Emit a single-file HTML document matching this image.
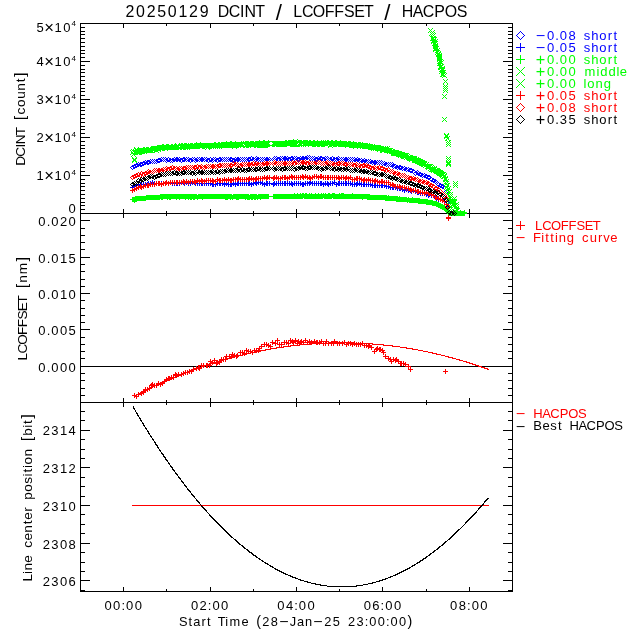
<!DOCTYPE html>
<html lang="en"><head><meta charset="utf-8"><title>20250129 DCINT / LCOFFSET / HACPOS</title>
<style>html,body{margin:0;padding:0;background:#fff}svg{display:block}text{font-family:'Liberation Sans', sans-serif;white-space:pre}</style>
</head><body>
<svg width="640" height="640" viewBox="0 0 640 640">
<rect width="640" height="640" fill="#fff"/>
<g shape-rendering="crispEdges" fill="none" stroke-width="1">
<path d="M80 23.5H513M80 213.5H513M80 402.5H513M80 591.5H513M80.5 23V592M512.5 23V592M123.5 24V28M210.5 24V28M296.5 24V28M382.5 24V28M469.5 24V28M166.5 24V26M253.5 24V26M339.5 24V26M426.5 24V26M123.5 209V213M123.5 214V218M210.5 209V213M210.5 214V218M296.5 209V213M296.5 214V218M382.5 209V213M382.5 214V218M469.5 209V213M469.5 214V218M166.5 211V213M166.5 214V216M253.5 211V213M253.5 214V216M339.5 211V213M339.5 214V216M426.5 211V213M426.5 214V216M123.5 398V402M123.5 403V407M210.5 398V402M210.5 403V407M296.5 398V402M296.5 403V407M382.5 398V402M382.5 403V407M469.5 398V402M469.5 403V407M166.5 400V402M166.5 403V405M253.5 400V402M253.5 403V405M339.5 400V402M339.5 403V405M426.5 400V402M426.5 403V405M123.5 587V591M210.5 587V591M296.5 587V591M382.5 587V591M469.5 587V591M166.5 589V591M253.5 589V591M339.5 589V591M426.5 589V591M81 213.5H90M503 213.5H512M81 175.5H90M503 175.5H512M81 137.5H90M503 137.5H512M81 99.5H90M503 99.5H512M81 61.5H90M503 61.5H512M81 23.5H90M503 23.5H512M81 209.5H85M508 209.5H512M81 205.5H85M508 205.5H512M81 202.5H85M508 202.5H512M81 198.5H85M508 198.5H512M81 194.5H85M508 194.5H512M81 190.5H85M508 190.5H512M81 186.5H85M508 186.5H512M81 183.5H85M508 183.5H512M81 179.5H85M508 179.5H512M81 171.5H85M508 171.5H512M81 167.5H85M508 167.5H512M81 164.5H85M508 164.5H512M81 160.5H85M508 160.5H512M81 156.5H85M508 156.5H512M81 152.5H85M508 152.5H512M81 148.5H85M508 148.5H512M81 145.5H85M508 145.5H512M81 141.5H85M508 141.5H512M81 133.5H85M508 133.5H512M81 129.5H85M508 129.5H512M81 126.5H85M508 126.5H512M81 122.5H85M508 122.5H512M81 118.5H85M508 118.5H512M81 114.5H85M508 114.5H512M81 110.5H85M508 110.5H512M81 107.5H85M508 107.5H512M81 103.5H85M508 103.5H512M81 95.5H85M508 95.5H512M81 91.5H85M508 91.5H512M81 88.5H85M508 88.5H512M81 84.5H85M508 84.5H512M81 80.5H85M508 80.5H512M81 76.5H85M508 76.5H512M81 72.5H85M508 72.5H512M81 69.5H85M508 69.5H512M81 65.5H85M508 65.5H512M81 57.5H85M508 57.5H512M81 53.5H85M508 53.5H512M81 50.5H85M508 50.5H512M81 46.5H85M508 46.5H512M81 42.5H85M508 42.5H512M81 38.5H85M508 38.5H512M81 34.5H85M508 34.5H512M81 31.5H85M508 31.5H512M81 27.5H85M508 27.5H512M81 366.5H90M503 366.5H512M81 329.5H90M503 329.5H512M81 293.5H90M503 293.5H512M81 257.5H90M503 257.5H512M81 220.5H90M503 220.5H512M81 395.5H85M508 395.5H512M81 388.5H85M508 388.5H512M81 380.5H85M508 380.5H512M81 373.5H85M508 373.5H512M81 358.5H85M508 358.5H512M81 351.5H85M508 351.5H512M81 344.5H85M508 344.5H512M81 337.5H85M508 337.5H512M81 322.5H85M508 322.5H512M81 315.5H85M508 315.5H512M81 308.5H85M508 308.5H512M81 300.5H85M508 300.5H512M81 286.5H85M508 286.5H512M81 279.5H85M508 279.5H512M81 271.5H85M508 271.5H512M81 264.5H85M508 264.5H512M81 249.5H85M508 249.5H512M81 242.5H85M508 242.5H512M81 235.5H85M508 235.5H512M81 228.5H85M508 228.5H512M81 580.5H90M503 580.5H512M81 543.5H90M503 543.5H512M81 505.5H90M503 505.5H512M81 467.5H90M503 467.5H512M81 430.5H90M503 430.5H512M81 590.5H85M508 590.5H512M81 571.5H85M508 571.5H512M81 562.5H85M508 562.5H512M81 552.5H85M508 552.5H512M81 533.5H85M508 533.5H512M81 524.5H85M508 524.5H512M81 514.5H85M508 514.5H512M81 496.5H85M508 496.5H512M81 486.5H85M508 486.5H512M81 477.5H85M508 477.5H512M81 458.5H85M508 458.5H512M81 449.5H85M508 449.5H512M81 439.5H85M508 439.5H512M81 420.5H85M508 420.5H512M81 411.5H85M508 411.5H512M80 366.5H513" stroke="#000"/>
<path d="M307 155.5h1M309 155.5h1M251 156.5h1M256 156.5h1M274 156.5h1M276 156.5h1M280 156.5h1M282 156.5h1M284 156.5h2M287 156.5h1M291 156.5h2M294 156.5h1M296 156.5h1M300 156.5h1M302 156.5h2M305 156.5h2M308 156.5h1M310 156.5h1M312 156.5h1M314 156.5h1M318 156.5h1M320 156.5h2M325 156.5h1M327 156.5h1M332 156.5h1M338 156.5h1M161 157.5h1M163 157.5h1M165 157.5h1M168 157.5h1M174 157.5h1M176 157.5h2M179 157.5h1M183 157.5h2M186 157.5h1M188 157.5h1M192 157.5h1M194 157.5h1M197 157.5h1M199 157.5h1M201 157.5h2M204 157.5h1M206 157.5h1M210 157.5h1M213 157.5h1M215 157.5h1M219 157.5h2M222 157.5h1M224 157.5h1M226 157.5h1M228 157.5h1M230 157.5h2M235 157.5h1M237 157.5h2M240 157.5h1M242 157.5h1M244 157.5h1M246 157.5h1M248 157.5h3M252 157.5h2M255 157.5h1M257 157.5h2M260 157.5h1M262 157.5h1M264 157.5h1M266 157.5h2M269 157.5h1M273 157.5h1M275 157.5h1M277 157.5h3M281 157.5h1M283 157.5h4M288 157.5h6M295 157.5h1M297 157.5h3M301 157.5h7M309 157.5h1M311 157.5h1M313 157.5h1M315 157.5h3M319 157.5h6M326 157.5h1M328 157.5h1M330 157.5h2M333 157.5h2M336 157.5h2M339 157.5h1M341 157.5h1M343 157.5h1M345 157.5h2M348 157.5h1M350 157.5h1M352 157.5h1M354 157.5h1M357 157.5h1M158 158.5h3M162 158.5h1M164 158.5h1M166 158.5h2M169 158.5h2M172 158.5h2M175 158.5h4M180 158.5h6M187 158.5h1M189 158.5h3M193 158.5h1M195 158.5h2M198 158.5h1M200 158.5h4M205 158.5h1M207 158.5h3M211 158.5h2M214 158.5h1M216 158.5h6M223 158.5h1M225 158.5h1M227 158.5h1M229 158.5h6M236 158.5h4M241 158.5h1M243 158.5h1M245 158.5h1M247 158.5h4M252 158.5h3M256 158.5h4M261 158.5h1M263 158.5h1M265 158.5h4M270 158.5h1M272 158.5h1M274 158.5h1M276 158.5h5M282 158.5h9M292 158.5h3M296 158.5h13M310 158.5h1M312 158.5h1M314 158.5h7M322 158.5h4M327 158.5h1M329 158.5h3M333 158.5h6M340 158.5h1M342 158.5h1M344 158.5h4M349 158.5h1M351 158.5h1M353 158.5h1M355 158.5h2M358 158.5h2M361 158.5h1M364 158.5h1M150 159.5h1M152 159.5h1M154 159.5h1M156 159.5h6M163 159.5h1M165 159.5h3M169 159.5h14M184 159.5h3M188 159.5h5M194 159.5h4M199 159.5h6M206 159.5h4M211 159.5h3M215 159.5h4M220 159.5h3M224 159.5h1M226 159.5h1M228 159.5h3M232 159.5h9M242 159.5h1M244 159.5h1M246 159.5h3M250 159.5h4M255 159.5h4M260 159.5h1M262 159.5h1M264 159.5h6M271 159.5h1M273 159.5h1M275 159.5h3M279 159.5h3M283 159.5h6M290 159.5h4M295 159.5h3M299 159.5h6M306 159.5h2M309 159.5h1M311 159.5h1M313 159.5h3M317 159.5h6M324 159.5h3M328 159.5h1M330 159.5h5M336 159.5h4M341 159.5h1M343 159.5h6M350 159.5h1M352 159.5h1M354 159.5h7M362 159.5h2M365 159.5h2M368 159.5h1M370 159.5h1M145 160.5h1M147 160.5h3M151 160.5h1M153 160.5h1M155 160.5h3M160 160.5h3M164 160.5h1M166 160.5h5M172 160.5h9M182 160.5h4M187 160.5h3M191 160.5h3M195 160.5h4M200 160.5h4M205 160.5h3M209 160.5h4M214 160.5h3M218 160.5h4M223 160.5h1M225 160.5h1M227 160.5h1M229 160.5h4M234 160.5h6M241 160.5h1M243 160.5h1M245 160.5h1M247 160.5h6M254 160.5h1M256 160.5h2M259 160.5h1M261 160.5h1M263 160.5h1M265 160.5h4M270 160.5h1M272 160.5h1M274 160.5h1M276 160.5h2M279 160.5h2M282 160.5h1M284 160.5h2M287 160.5h2M290 160.5h3M294 160.5h1M296 160.5h2M299 160.5h2M302 160.5h2M305 160.5h1M310 160.5h1M312 160.5h1M314 160.5h2M317 160.5h2M320 160.5h3M324 160.5h2M327 160.5h1M329 160.5h1M331 160.5h3M335 160.5h1M337 160.5h2M340 160.5h1M342 160.5h1M344 160.5h4M349 160.5h1M351 160.5h1M353 160.5h7M361 160.5h7M369 160.5h1M371 160.5h2M374 160.5h2M377 160.5h1M379 160.5h1M381 160.5h1M143 161.5h2M146 161.5h5M152 161.5h1M154 161.5h1M156 161.5h6M163 161.5h1M165 161.5h1M167 161.5h3M171 161.5h1M173 161.5h2M176 161.5h2M179 161.5h2M182 161.5h3M186 161.5h1M188 161.5h2M191 161.5h2M194 161.5h1M196 161.5h2M199 161.5h1M201 161.5h2M204 161.5h1M206 161.5h2M209 161.5h3M213 161.5h1M215 161.5h2M218 161.5h3M222 161.5h1M224 161.5h1M226 161.5h1M228 161.5h1M230 161.5h3M234 161.5h2M237 161.5h2M240 161.5h1M242 161.5h1M244 161.5h1M246 161.5h1M248 161.5h2M253 161.5h1M255 161.5h1M258 161.5h1M260 161.5h1M262 161.5h1M264 161.5h1M266 161.5h2M269 161.5h1M273 161.5h1M278 161.5h1M289 161.5h1M298 161.5h1M316 161.5h1M323 161.5h1M328 161.5h1M330 161.5h1M334 161.5h1M336 161.5h1M339 161.5h1M341 161.5h1M343 161.5h1M345 161.5h2M348 161.5h1M350 161.5h1M352 161.5h1M354 161.5h2M357 161.5h2M360 161.5h7M368 161.5h1M370 161.5h7M378 161.5h1M380 161.5h1M382 161.5h1M384 161.5h1M138 162.5h1M140 162.5h8M149 162.5h3M153 162.5h1M155 162.5h1M157 162.5h3M166 162.5h1M170 162.5h1M172 162.5h1M181 162.5h1M190 162.5h1M195 162.5h1M208 162.5h1M212 162.5h1M217 162.5h1M233 162.5h1M356 162.5h1M359 162.5h1M361 162.5h2M364 162.5h2M367 162.5h1M369 162.5h9M379 162.5h1M381 162.5h1M383 162.5h1M385 162.5h2M388 162.5h1M390 162.5h1M392 162.5h1M136 163.5h2M139 163.5h4M144 163.5h7M152 163.5h1M154 163.5h1M156 163.5h1M363 163.5h1M366 163.5h1M368 163.5h1M370 163.5h2M373 163.5h4M378 163.5h1M380 163.5h1M382 163.5h1M384 163.5h4M389 163.5h1M391 163.5h1M393 163.5h1M134 164.5h7M142 164.5h4M147 164.5h2M372 164.5h1M374 164.5h2M377 164.5h1M379 164.5h1M381 164.5h1M383 164.5h4M388 164.5h1M390 164.5h1M392 164.5h4M132 165.5h4M137 165.5h7M382 165.5h1M384 165.5h2M387 165.5h1M389 165.5h1M391 165.5h4M396 165.5h2M399 165.5h2M131 166.5h3M135 166.5h4M140 166.5h2M386 166.5h1M388 166.5h1M390 166.5h4M395 166.5h8M404 166.5h1M130 167.5h1M133 167.5h4M392 167.5h1M394 167.5h6M401 167.5h3M405 167.5h2M408 167.5h1M131 168.5h1M133 168.5h2M393 168.5h1M395 168.5h2M398 168.5h5M404 168.5h4M409 168.5h3M132 169.5h1M397 169.5h1M399 169.5h3M403 169.5h4M408 169.5h6M402 170.5h1M404 170.5h2M407 170.5h3M412 170.5h3M417 170.5h1M406 171.5h1M408 171.5h5M415 171.5h2M418 171.5h1M410 172.5h3M414 172.5h4M419 172.5h2M413 173.5h1M416 173.5h7M424 173.5h1M414 174.5h1M416 174.5h4M421 174.5h3M425 174.5h2M415 175.5h1M418 175.5h5M424 175.5h6M420 176.5h2M423 176.5h3M427 176.5h4M422 177.5h1M424 177.5h4M430 177.5h2M426 178.5h5M432 178.5h2M428 179.5h2M432 179.5h4M430 180.5h3M434 180.5h3M431 181.5h5M437 181.5h1M433 182.5h2M436 182.5h1M438 182.5h1M435 183.5h1M437 183.5h1M439 183.5h2M436 184.5h1M439 184.5h4M437 185.5h3M441 185.5h4M438 186.5h4M443 186.5h3M440 187.5h4M446 187.5h1M442 188.5h2M445 188.5h1M444 189.5h1M446 189.5h1M445 190.5h1M447 190.5h1M444 191.5h1M448 191.5h1M445 192.5h1M447 192.5h1M446 193.5h1M447 200.5h1M446 201.5h1M448 201.5h1M445 202.5h1M449 202.5h1M446 203.5h1M448 203.5h1M447 204.5h1" stroke="#0000ff"/>
<path d="M152 180.5h1M166 180.5h1M170 180.5h1M181 180.5h1M183 180.5h1M186 180.5h1M192 180.5h1M194 180.5h1M255 180.5h1M258 180.5h1M260 180.5h1M310 180.5h1M334 180.5h1M148 181.5h1M150 181.5h1M152 181.5h1M154 181.5h1M156 181.5h1M158 181.5h2M161 181.5h1M163 181.5h1M165 181.5h2M168 181.5h1M170 181.5h1M172 181.5h1M174 181.5h1M176 181.5h2M179 181.5h1M181 181.5h1M183 181.5h2M186 181.5h1M188 181.5h1M190 181.5h1M192 181.5h1M194 181.5h2M197 181.5h1M199 181.5h1M201 181.5h2M204 181.5h1M206 181.5h1M208 181.5h1M210 181.5h1M217 181.5h1M219 181.5h2M222 181.5h1M226 181.5h1M233 181.5h1M237 181.5h2M240 181.5h1M242 181.5h1M244 181.5h1M246 181.5h1M248 181.5h2M253 181.5h1M255 181.5h2M258 181.5h1M260 181.5h1M262 181.5h1M266 181.5h2M269 181.5h1M274 181.5h1M276 181.5h1M278 181.5h1M280 181.5h1M282 181.5h1M284 181.5h2M287 181.5h1M289 181.5h1M291 181.5h1M294 181.5h1M296 181.5h1M298 181.5h1M300 181.5h1M305 181.5h1M307 181.5h1M309 181.5h2M312 181.5h1M314 181.5h1M316 181.5h1M318 181.5h1M320 181.5h2M325 181.5h1M327 181.5h1M330 181.5h1M332 181.5h1M334 181.5h1M338 181.5h2M341 181.5h1M343 181.5h1M345 181.5h2M348 181.5h1M350 181.5h1M357 181.5h1M359 181.5h1M140 182.5h2M143 182.5h1M145 182.5h1M147 182.5h2M150 182.5h5M156 182.5h1M158 182.5h2M161 182.5h1M163 182.5h10M174 182.5h1M176 182.5h2M179 182.5h10M190 182.5h8M199 182.5h1M201 182.5h2M204 182.5h1M206 182.5h1M208 182.5h1M210 182.5h1M212 182.5h2M215 182.5h1M217 182.5h1M219 182.5h2M222 182.5h1M224 182.5h1M226 182.5h1M228 182.5h1M230 182.5h2M233 182.5h1M235 182.5h1M237 182.5h2M240 182.5h1M242 182.5h1M244 182.5h1M246 182.5h1M248 182.5h2M251 182.5h1M253 182.5h10M264 182.5h1M266 182.5h2M269 182.5h1M273 182.5h2M276 182.5h1M278 182.5h1M280 182.5h1M282 182.5h1M284 182.5h2M287 182.5h1M289 182.5h1M291 182.5h2M294 182.5h1M296 182.5h1M298 182.5h1M300 182.5h1M302 182.5h2M305 182.5h1M307 182.5h6M314 182.5h1M316 182.5h1M318 182.5h1M320 182.5h2M323 182.5h1M325 182.5h1M327 182.5h2M330 182.5h1M332 182.5h5M338 182.5h2M341 182.5h1M343 182.5h1M345 182.5h2M348 182.5h1M350 182.5h1M352 182.5h1M354 182.5h1M356 182.5h2M359 182.5h1M361 182.5h1M363 182.5h2M366 182.5h1M368 182.5h1M370 182.5h1M136 183.5h1M138 183.5h1M140 183.5h2M143 183.5h1M145 183.5h69M215 183.5h14M230 183.5h29M260 183.5h75M336 183.5h17M354 183.5h8M363 183.5h2M366 183.5h1M368 183.5h1M370 183.5h1M372 183.5h1M374 183.5h2M377 183.5h1M379 183.5h1M381 183.5h2M384 183.5h1M134 184.5h1M136 184.5h1M138 184.5h13M152 184.5h1M154 184.5h1M156 184.5h1M158 184.5h2M161 184.5h1M163 184.5h1M165 184.5h2M168 184.5h1M170 184.5h1M172 184.5h1M174 184.5h1M176 184.5h2M179 184.5h1M181 184.5h1M183 184.5h2M186 184.5h1M188 184.5h1M190 184.5h1M192 184.5h1M194 184.5h2M197 184.5h1M199 184.5h1M201 184.5h2M204 184.5h1M206 184.5h1M208 184.5h1M210 184.5h8M219 184.5h2M222 184.5h17M240 184.5h1M242 184.5h1M244 184.5h1M246 184.5h1M248 184.5h6M255 184.5h2M258 184.5h1M260 184.5h1M262 184.5h6M269 184.5h1M271 184.5h6M278 184.5h1M280 184.5h1M282 184.5h1M284 184.5h2M287 184.5h1M289 184.5h6M296 184.5h1M298 184.5h1M300 184.5h6M307 184.5h1M309 184.5h2M312 184.5h1M314 184.5h1M316 184.5h1M318 184.5h1M320 184.5h11M332 184.5h1M334 184.5h6M341 184.5h1M343 184.5h1M345 184.5h2M348 184.5h1M350 184.5h23M374 184.5h2M377 184.5h1M379 184.5h1M381 184.5h2M384 184.5h1M386 184.5h1M388 184.5h1M132 185.5h1M134 185.5h8M143 185.5h1M145 185.5h1M147 185.5h2M150 185.5h1M154 185.5h1M156 185.5h1M158 185.5h2M161 185.5h1M163 185.5h1M165 185.5h1M168 185.5h1M172 185.5h1M174 185.5h1M176 185.5h2M179 185.5h1M184 185.5h1M188 185.5h1M190 185.5h1M195 185.5h1M197 185.5h1M199 185.5h1M201 185.5h2M204 185.5h1M206 185.5h1M208 185.5h1M210 185.5h1M212 185.5h2M215 185.5h1M217 185.5h1M219 185.5h2M222 185.5h1M224 185.5h1M226 185.5h1M228 185.5h1M230 185.5h2M233 185.5h1M235 185.5h1M237 185.5h2M240 185.5h1M242 185.5h1M244 185.5h1M246 185.5h1M248 185.5h2M251 185.5h1M253 185.5h1M256 185.5h1M262 185.5h1M264 185.5h1M266 185.5h2M269 185.5h1M273 185.5h2M276 185.5h1M278 185.5h1M280 185.5h1M282 185.5h1M284 185.5h2M287 185.5h1M289 185.5h1M291 185.5h2M294 185.5h1M296 185.5h1M298 185.5h1M300 185.5h1M302 185.5h2M305 185.5h1M307 185.5h1M309 185.5h1M312 185.5h1M314 185.5h1M316 185.5h1M318 185.5h1M320 185.5h2M323 185.5h1M325 185.5h1M327 185.5h2M330 185.5h1M332 185.5h1M336 185.5h1M338 185.5h2M341 185.5h1M343 185.5h1M345 185.5h2M348 185.5h1M350 185.5h1M352 185.5h1M354 185.5h1M356 185.5h2M359 185.5h1M361 185.5h1M363 185.5h2M366 185.5h1M368 185.5h1M370 185.5h17M388 185.5h1M390 185.5h1M392 185.5h2M395 185.5h1M132 186.5h5M138 186.5h1M140 186.5h2M143 186.5h1M145 186.5h1M147 186.5h1M212 186.5h2M215 186.5h1M224 186.5h1M228 186.5h1M230 186.5h2M235 186.5h1M251 186.5h1M264 186.5h1M273 186.5h1M292 186.5h1M302 186.5h2M323 186.5h1M328 186.5h1M336 186.5h1M352 186.5h1M354 186.5h1M356 186.5h1M361 186.5h1M363 186.5h2M366 186.5h1M368 186.5h1M370 186.5h1M372 186.5h1M374 186.5h2M377 186.5h1M379 186.5h1M381 186.5h2M384 186.5h7M392 186.5h2M395 186.5h1M397 186.5h1M399 186.5h2M130 187.5h5M136 187.5h1M138 187.5h1M372 187.5h1M374 187.5h2M377 187.5h1M379 187.5h1M381 187.5h2M384 187.5h1M386 187.5h1M388 187.5h10M399 187.5h2M402 187.5h1M406 187.5h1M132 188.5h1M134 188.5h1M386 188.5h1M388 188.5h1M390 188.5h1M392 188.5h2M395 188.5h8M404 188.5h1M406 188.5h1M408 188.5h1M410 188.5h1M413 188.5h1M132 189.5h1M390 189.5h1M392 189.5h2M395 189.5h1M397 189.5h1M399 189.5h10M410 189.5h2M413 189.5h1M415 189.5h1M397 190.5h1M399 190.5h2M402 190.5h14M417 190.5h2M402 191.5h1M404 191.5h1M406 191.5h1M408 191.5h11M420 191.5h1M422 191.5h1M424 191.5h1M404 192.5h1M408 192.5h1M410 192.5h2M413 192.5h1M415 192.5h6M422 192.5h1M424 192.5h1M426 192.5h1M429 192.5h1M411 193.5h1M415 193.5h1M417 193.5h10M428 193.5h2M431 193.5h1M433 193.5h1M417 194.5h2M420 194.5h1M422 194.5h1M424 194.5h8M433 194.5h1M435 194.5h1M420 195.5h1M422 195.5h1M424 195.5h1M426 195.5h10M426 196.5h1M428 196.5h2M431 196.5h1M433 196.5h5M428 197.5h1M431 197.5h1M433 197.5h1M435 197.5h2M438 197.5h1M440 197.5h1M442 197.5h1M434 198.5h5M440 198.5h1M442 198.5h1M436 199.5h9M436 200.5h1M438 200.5h1M440 200.5h1M442 200.5h1M444 200.5h1M438 201.5h1M440 201.5h1M442 201.5h5M444 202.5h1M446 202.5h1M444 203.5h1M446 203.5h1M444 204.5h5M446 205.5h1M446 206.5h2M447 207.5h1M445 208.5h5M447 209.5h1M447 210.5h1" stroke="#0000ff"/>
<path d="M294 193.5h1M297 193.5h1M300 193.5h1M302 193.5h2M305 193.5h2M309 193.5h1M311 193.5h1M315 193.5h1M318 193.5h1M321 193.5h1M323 193.5h1M325 193.5h1M328 193.5h2M332 193.5h3M339 193.5h1M341 193.5h3M352 193.5h1M160 194.5h37M198 194.5h34M233 194.5h16M250 194.5h7M258 194.5h11M273 194.5h97M146 195.5h123M273 195.5h114M388 195.5h1M135 196.5h263M399 196.5h1M132 197.5h137M273 197.5h134M408 197.5h1M412 197.5h1M132 198.5h137M273 198.5h30M304 198.5h19M324 198.5h8M333 198.5h87M130 199.5h30M161 199.5h2M167 199.5h1M169 199.5h2M176 199.5h1M179 199.5h1M185 199.5h1M188 199.5h1M190 199.5h2M193 199.5h2M197 199.5h1M202 199.5h1M225 199.5h3M230 199.5h1M232 199.5h1M236 199.5h3M245 199.5h1M247 199.5h3M251 199.5h2M254 199.5h2M257 199.5h1M260 199.5h1M362 199.5h1M367 199.5h61M132 200.5h14M385 200.5h48M132 201.5h5M396 201.5h41M134 202.5h1M407 202.5h1M409 202.5h30M418 203.5h23M426 204.5h17M432 205.5h13M436 206.5h10M438 207.5h9M440 208.5h8M442 209.5h7M444 210.5h6M454 210.5h1M460 210.5h1M464 210.5h1M445 211.5h20M446 212.5h21M447 213.5h20M448 214.5h17M449 215.5h16" stroke="#00ff00"/>
<path d="M293 139.5h1M297 139.5h1M259 140.5h1M263 140.5h2M268 140.5h1M285 140.5h2M288 140.5h9M298 140.5h4M303 140.5h5M309 140.5h2M313 140.5h2M317 140.5h1M321 140.5h1M323 140.5h1M325 140.5h1M327 140.5h2M331 140.5h2M335 140.5h2M340 140.5h1M226 141.5h1M230 141.5h2M235 141.5h1M241 141.5h1M243 141.5h1M245 141.5h4M250 141.5h4M255 141.5h92M348 141.5h3M353 141.5h1M196 142.5h1M200 142.5h1M214 142.5h2M218 142.5h2M221 142.5h49M272 142.5h85M358 142.5h3M362 142.5h1M175 143.5h1M179 143.5h1M181 143.5h2M184 143.5h3M188 143.5h1M190 143.5h3M194 143.5h75M273 143.5h25M299 143.5h69M369 143.5h1M162 144.5h2M166 144.5h3M171 144.5h2M174 144.5h3M178 144.5h65M244 144.5h26M272 144.5h25M298 144.5h4M303 144.5h70M374 144.5h1M157 145.5h87M245 145.5h83M329 145.5h52M151 146.5h28M180 146.5h90M272 146.5h3M276 146.5h11M290 146.5h10M301 146.5h1M303 146.5h1M305 146.5h1M308 146.5h1M312 146.5h4M317 146.5h3M321 146.5h4M328 146.5h4M333 146.5h4M338 146.5h46M385 146.5h1M387 146.5h1M389 146.5h1M134 147.5h1M138 147.5h1M143 147.5h2M146 147.5h3M150 147.5h89M240 147.5h1M243 147.5h2M246 147.5h3M250 147.5h1M254 147.5h2M257 147.5h11M328 147.5h1M332 147.5h1M345 147.5h1M349 147.5h40M134 148.5h2M137 148.5h63M202 148.5h3M206 148.5h1M208 148.5h4M213 148.5h1M215 148.5h1M217 148.5h1M219 148.5h1M221 148.5h1M232 148.5h1M236 148.5h1M353 148.5h1M357 148.5h1M360 148.5h1M362 148.5h31M131 149.5h1M133 149.5h1M135 149.5h44M180 149.5h2M183 149.5h3M187 149.5h1M189 149.5h1M205 149.5h1M209 149.5h1M368 149.5h24M393 149.5h2M130 150.5h1M132 150.5h29M162 150.5h3M167 150.5h1M371 150.5h1M373 150.5h1M375 150.5h24M131 151.5h1M133 151.5h20M154 151.5h4M160 151.5h1M377 151.5h1M380 151.5h22M131 152.5h2M134 152.5h21M158 152.5h1M380 152.5h2M384 152.5h21M131 153.5h14M146 153.5h1M387 153.5h1M389 153.5h20M130 154.5h1M133 154.5h5M139 154.5h3M391 154.5h17M409 154.5h1M132 155.5h1M134 155.5h1M391 155.5h18M410 155.5h3M131 156.5h1M135 156.5h1M396 156.5h21M132 157.5h1M136 157.5h1M398 157.5h1M400 157.5h17M418 157.5h1M132 158.5h2M135 158.5h2M401 158.5h3M405 158.5h16M133 159.5h3M404 159.5h1M406 159.5h17M133 160.5h3M407 160.5h18M132 161.5h2M135 161.5h2M409 161.5h1M412 161.5h15M132 162.5h1M136 162.5h1M412 162.5h15M428 162.5h1M415 163.5h11M427 163.5h1M417 164.5h16M419 165.5h13M433 165.5h1M421 166.5h2M424 166.5h7M432 166.5h1M434 166.5h1M436 166.5h1M423 167.5h1M426 167.5h11M425 168.5h11M437 168.5h3M426 169.5h1M429 169.5h12M428 170.5h1M430 170.5h13M429 171.5h15M431 172.5h1M433 172.5h13M434 173.5h11M446 173.5h1M436 174.5h8M445 174.5h2M437 175.5h9M439 176.5h3M443 176.5h3M447 176.5h1M440 177.5h1M442 177.5h6M441 178.5h2M444 178.5h3M444 179.5h3M448 179.5h1M443 180.5h5M443 181.5h2M446 181.5h3M445 182.5h1M447 182.5h1M444 183.5h1M446 183.5h1M448 183.5h1M445 184.5h1M447 184.5h1M444 185.5h1M448 185.5h1M445 186.5h1M447 186.5h1M446 187.5h1M445 188.5h1M447 188.5h1M449 188.5h1M444 189.5h1M446 189.5h1M448 189.5h1M447 190.5h1M446 191.5h1M448 191.5h1M445 192.5h1M449 192.5h1M446 193.5h1M448 193.5h1M447 194.5h1M446 195.5h1M448 195.5h1M445 196.5h2M449 196.5h2M446 197.5h2M449 197.5h2M447 198.5h3M447 199.5h3M446 200.5h2M449 200.5h2M446 201.5h2M450 201.5h2M448 202.5h1M450 202.5h1M447 203.5h1M449 203.5h1M451 203.5h1M448 204.5h1M450 204.5h1M447 205.5h3M451 205.5h2M448 206.5h4M447 207.5h2M450 207.5h3M449 208.5h1M451 208.5h1M448 209.5h1M450 209.5h1M452 209.5h1M449 210.5h1M451 210.5h1M448 211.5h1M452 211.5h1" stroke="#00ff00"/>
<path d="M428 28.5h1M432 28.5h1M429 29.5h1M431 29.5h1M430 30.5h1M434 30.5h1M429 31.5h1M431 31.5h1M433 31.5h1M428 32.5h1M430 32.5h1M432 32.5h1M434 32.5h1M431 33.5h1M433 33.5h1M435 33.5h1M430 34.5h1M432 34.5h1M434 34.5h1M429 35.5h1M431 35.5h1M433 35.5h1M430 36.5h3M434 36.5h2M431 37.5h6M431 38.5h3M435 38.5h1M431 39.5h5M437 39.5h1M430 40.5h7M432 41.5h6M431 42.5h6M431 43.5h1M433 43.5h3M437 43.5h1M433 44.5h5M432 45.5h6M433 46.5h6M433 47.5h5M433 48.5h5M439 48.5h1M434 49.5h5M433 50.5h7M433 51.5h1M436 51.5h3M440 51.5h1M435 52.5h3M439 52.5h2M436 53.5h4M441 53.5h1M435 54.5h1M437 54.5h5M436 55.5h6M436 56.5h6M437 57.5h5M437 58.5h5M437 59.5h6M437 60.5h5M443 60.5h1M437 61.5h1M439 61.5h4M438 62.5h4M437 63.5h6M438 64.5h3M442 64.5h2M437 65.5h6M439 66.5h3M444 66.5h1M439 67.5h6M438 68.5h7M438 69.5h2M441 69.5h3M440 70.5h6M439 71.5h6M440 72.5h6M439 73.5h1M441 73.5h4M446 73.5h1M441 74.5h3M445 74.5h1M441 75.5h4M440 76.5h2M443 76.5h3M442 77.5h1M446 77.5h1M443 79.5h1M447 79.5h1M444 80.5h1M446 80.5h1M445 81.5h1M444 82.5h1M446 82.5h1M443 83.5h1M447 83.5h1M443 84.5h1M447 84.5h1M444 85.5h1M446 85.5h1M443 86.5h1M445 86.5h1M447 86.5h1M444 87.5h1M446 87.5h1M443 88.5h1M445 88.5h1M447 88.5h1M444 89.5h1M446 89.5h1M443 90.5h1M445 90.5h1M447 90.5h1M444 91.5h1M446 91.5h1M443 92.5h1M447 92.5h1M442 94.5h1M446 94.5h1M443 95.5h1M445 95.5h1M444 96.5h1M443 97.5h1M445 97.5h1M442 98.5h1M446 98.5h1M442 117.5h1M446 117.5h1M443 118.5h1M445 118.5h1M444 119.5h1M443 120.5h1M445 120.5h1M442 121.5h1M446 121.5h1M444 133.5h1M448 133.5h1M444 134.5h2M447 134.5h2M445 135.5h3M445 136.5h3M449 136.5h1M444 137.5h5M444 138.5h1M447 138.5h2M446 139.5h1M448 139.5h1M445 140.5h2M449 140.5h2M447 141.5h1M449 141.5h1M446 142.5h1M448 142.5h1M450 142.5h1M447 143.5h1M449 143.5h1M446 144.5h1M448 144.5h1M450 144.5h1M447 145.5h1M449 145.5h1M446 146.5h1M450 146.5h1M446 156.5h1M450 156.5h1M447 157.5h1M449 157.5h1M446 158.5h1M448 158.5h1M450 158.5h1M447 159.5h1M449 159.5h1M446 160.5h1M448 160.5h1M450 160.5h1M446 161.5h2M449 161.5h2M446 162.5h5M447 163.5h3M446 164.5h5M446 165.5h2M449 165.5h2M446 166.5h1M450 166.5h1M444 179.5h1M448 179.5h1M443 180.5h1M445 180.5h1M447 180.5h1M444 181.5h1M446 181.5h1M453 181.5h1M457 181.5h1M445 182.5h1M447 182.5h1M454 182.5h1M456 182.5h1M444 183.5h3M448 183.5h2M453 183.5h1M455 183.5h1M457 183.5h1M443 184.5h1M446 184.5h3M454 184.5h1M456 184.5h1M447 185.5h1M453 185.5h1M455 185.5h1M457 185.5h1M446 186.5h1M448 186.5h1M450 186.5h1M454 186.5h1M456 186.5h1M445 187.5h1M447 187.5h1M449 187.5h1M453 187.5h1M457 187.5h1M448 188.5h1M447 189.5h1M449 189.5h1M451 189.5h1M446 190.5h1M448 190.5h1M450 190.5h1M449 191.5h1M448 192.5h1M450 192.5h1M452 192.5h1M447 193.5h1M449 193.5h1M451 193.5h1M448 194.5h1M450 194.5h1M452 194.5h1M449 195.5h1M451 195.5h1M448 196.5h1M450 196.5h1M452 196.5h1M456 196.5h1M449 197.5h1M451 197.5h1M453 197.5h1M455 197.5h1M448 198.5h1M450 198.5h1M452 198.5h1M454 198.5h1M450 199.5h7M450 200.5h7M449 201.5h1M451 201.5h5M451 202.5h5M458 202.5h1M450 203.5h1M452 203.5h6M452 204.5h5M458 204.5h1M451 205.5h1M453 205.5h3M457 205.5h1M453 206.5h4M458 206.5h1M452 207.5h1M454 207.5h5M454 208.5h6M453 209.5h1M456 209.5h3M455 210.5h3M460 210.5h1M454 211.5h1M456 211.5h4M455 212.5h1M458 212.5h2M457 213.5h1M459 213.5h1M456 214.5h1M460 214.5h1" stroke="#00ff00"/>
<path d="M291 174.5h1M302 174.5h1M305 174.5h1M314 174.5h1M316 174.5h1M320 174.5h2M264 175.5h1M267 175.5h1M269 175.5h1M274 175.5h1M276 175.5h1M282 175.5h1M284 175.5h2M289 175.5h1M291 175.5h2M294 175.5h1M296 175.5h1M298 175.5h1M300 175.5h1M302 175.5h2M305 175.5h1M307 175.5h1M309 175.5h1M312 175.5h1M314 175.5h1M316 175.5h1M318 175.5h1M320 175.5h2M323 175.5h1M325 175.5h1M327 175.5h2M330 175.5h1M332 175.5h1M334 175.5h1M336 175.5h1M338 175.5h1M341 175.5h1M343 175.5h1M346 175.5h1M350 175.5h1M238 176.5h1M249 176.5h1M251 176.5h1M256 176.5h1M258 176.5h1M260 176.5h1M262 176.5h1M264 176.5h1M266 176.5h2M269 176.5h1M273 176.5h2M276 176.5h1M278 176.5h1M280 176.5h1M282 176.5h1M284 176.5h2M287 176.5h1M289 176.5h6M296 176.5h1M298 176.5h1M300 176.5h8M309 176.5h2M312 176.5h12M325 176.5h1M327 176.5h2M330 176.5h1M332 176.5h1M334 176.5h1M336 176.5h1M338 176.5h2M341 176.5h1M343 176.5h1M345 176.5h2M348 176.5h1M350 176.5h1M356 176.5h2M359 176.5h1M217 177.5h1M224 177.5h1M228 177.5h1M233 177.5h1M235 177.5h1M237 177.5h2M240 177.5h1M242 177.5h1M244 177.5h1M246 177.5h1M248 177.5h2M251 177.5h1M253 177.5h1M255 177.5h2M258 177.5h1M260 177.5h1M262 177.5h17M280 177.5h35M316 177.5h37M354 177.5h1M356 177.5h2M359 177.5h1M361 177.5h1M364 177.5h1M368 177.5h1M197 178.5h1M201 178.5h1M206 178.5h1M208 178.5h1M210 178.5h1M212 178.5h1M217 178.5h1M219 178.5h2M222 178.5h1M224 178.5h1M226 178.5h1M228 178.5h1M230 178.5h2M233 178.5h1M235 178.5h6M242 178.5h1M244 178.5h1M246 178.5h24M271 178.5h12M284 178.5h6M291 178.5h2M294 178.5h1M296 178.5h1M298 178.5h1M300 178.5h1M302 178.5h2M305 178.5h1M307 178.5h6M314 178.5h1M316 178.5h1M318 178.5h1M320 178.5h2M323 178.5h1M325 178.5h1M327 178.5h2M330 178.5h1M332 178.5h1M334 178.5h1M336 178.5h6M343 178.5h8M352 178.5h1M354 178.5h8M363 178.5h2M366 178.5h1M368 178.5h1M370 178.5h1M372 178.5h1M375 178.5h1M183 179.5h1M186 179.5h1M190 179.5h1M192 179.5h1M194 179.5h1M197 179.5h1M199 179.5h1M201 179.5h2M204 179.5h1M206 179.5h1M208 179.5h1M210 179.5h1M212 179.5h2M215 179.5h6M222 179.5h37M260 179.5h1M262 179.5h1M264 179.5h1M266 179.5h2M269 179.5h1M273 179.5h2M276 179.5h1M278 179.5h1M280 179.5h1M282 179.5h1M284 179.5h2M287 179.5h1M289 179.5h1M292 179.5h1M294 179.5h1M296 179.5h1M298 179.5h1M300 179.5h1M303 179.5h1M307 179.5h1M309 179.5h2M312 179.5h1M318 179.5h1M323 179.5h1M325 179.5h1M327 179.5h2M330 179.5h1M332 179.5h1M334 179.5h1M336 179.5h1M338 179.5h2M341 179.5h1M343 179.5h1M345 179.5h2M348 179.5h1M350 179.5h8M359 179.5h12M372 179.5h1M374 179.5h2M377 179.5h1M381 179.5h2M166 180.5h1M170 180.5h1M172 180.5h1M174 180.5h1M176 180.5h2M179 180.5h1M181 180.5h1M183 180.5h2M186 180.5h1M188 180.5h1M190 180.5h1M192 180.5h1M194 180.5h22M217 180.5h17M235 180.5h1M237 180.5h2M240 180.5h1M242 180.5h1M244 180.5h1M246 180.5h1M248 180.5h2M251 180.5h1M253 180.5h1M255 180.5h2M258 180.5h1M260 180.5h1M262 180.5h1M266 180.5h1M273 180.5h1M278 180.5h1M280 180.5h1M287 180.5h1M310 180.5h1M339 180.5h1M345 180.5h1M348 180.5h1M352 180.5h1M354 180.5h1M356 180.5h2M359 180.5h1M361 180.5h17M379 180.5h1M381 180.5h2M384 180.5h1M386 180.5h1M388 180.5h1M156 181.5h1M158 181.5h2M163 181.5h1M165 181.5h2M168 181.5h1M170 181.5h1M172 181.5h1M174 181.5h1M176 181.5h2M179 181.5h1M181 181.5h26M208 181.5h1M210 181.5h8M219 181.5h2M222 181.5h1M224 181.5h1M226 181.5h1M228 181.5h1M230 181.5h2M233 181.5h1M235 181.5h1M237 181.5h1M240 181.5h1M242 181.5h1M244 181.5h1M246 181.5h1M248 181.5h1M253 181.5h1M255 181.5h1M352 181.5h1M354 181.5h1M361 181.5h1M363 181.5h2M366 181.5h1M368 181.5h1M370 181.5h1M372 181.5h13M386 181.5h1M388 181.5h1M150 182.5h1M152 182.5h1M154 182.5h1M156 182.5h1M158 182.5h2M161 182.5h1M163 182.5h28M192 182.5h6M199 182.5h1M201 182.5h2M204 182.5h1M206 182.5h1M208 182.5h1M210 182.5h1M212 182.5h2M215 182.5h1M219 182.5h2M222 182.5h1M226 182.5h1M230 182.5h2M363 182.5h1M366 182.5h1M370 182.5h1M372 182.5h1M374 182.5h2M377 182.5h14M392 182.5h1M145 183.5h1M147 183.5h2M150 183.5h1M152 183.5h1M154 183.5h17M172 183.5h1M174 183.5h1M176 183.5h2M179 183.5h1M181 183.5h1M183 183.5h2M186 183.5h1M188 183.5h1M190 183.5h1M192 183.5h1M194 183.5h2M199 183.5h1M202 183.5h1M204 183.5h1M213 183.5h1M215 183.5h1M374 183.5h1M377 183.5h1M379 183.5h1M381 183.5h2M384 183.5h1M386 183.5h1M388 183.5h1M390 183.5h1M392 183.5h2M140 184.5h1M143 184.5h1M145 184.5h1M147 184.5h10M158 184.5h6M165 184.5h2M168 184.5h1M170 184.5h1M172 184.5h1M174 184.5h1M176 184.5h2M179 184.5h1M181 184.5h1M184 184.5h1M188 184.5h1M195 184.5h1M379 184.5h1M384 184.5h1M386 184.5h1M388 184.5h8M397 184.5h1M399 184.5h1M138 185.5h1M140 185.5h2M143 185.5h8M152 185.5h1M154 185.5h1M156 185.5h1M158 185.5h2M161 185.5h1M163 185.5h1M165 185.5h1M168 185.5h1M390 185.5h6M397 185.5h1M399 185.5h2M402 185.5h1M404 185.5h1M136 186.5h1M138 186.5h8M147 186.5h2M150 186.5h1M152 186.5h1M154 186.5h1M161 186.5h1M390 186.5h1M392 186.5h11M404 186.5h1M406 186.5h1M408 186.5h1M134 187.5h1M136 187.5h8M145 187.5h1M147 187.5h2M393 187.5h1M395 187.5h1M397 187.5h10M408 187.5h1M410 187.5h1M132 188.5h1M134 188.5h5M140 188.5h2M143 188.5h1M395 188.5h1M397 188.5h1M399 188.5h2M402 188.5h1M404 188.5h8M413 188.5h1M415 188.5h1M132 189.5h5M138 189.5h1M141 189.5h1M400 189.5h1M402 189.5h1M404 189.5h1M406 189.5h1M408 189.5h6M415 189.5h1M417 189.5h2M130 190.5h5M136 190.5h1M406 190.5h1M408 190.5h11M420 190.5h1M422 190.5h1M426 190.5h1M132 191.5h1M134 191.5h1M410 191.5h2M413 191.5h1M415 191.5h6M422 191.5h1M424 191.5h1M426 191.5h1M428 191.5h2M132 192.5h1M411 192.5h1M413 192.5h1M415 192.5h1M417 192.5h13M431 192.5h1M417 193.5h2M420 193.5h1M422 193.5h10M433 193.5h1M420 194.5h1M422 194.5h1M424 194.5h1M426 194.5h1M428 194.5h6M424 195.5h1M428 195.5h2M431 195.5h6M431 196.5h1M433 196.5h1M435 196.5h2M438 196.5h1M433 197.5h6M440 197.5h1M435 198.5h6M442 198.5h1M435 199.5h2M438 199.5h5M444 199.5h1M438 200.5h1M440 200.5h5M440 201.5h1M442 201.5h5M442 202.5h1M444 202.5h1M446 202.5h1M444 203.5h1M446 203.5h1M444 204.5h5M446 205.5h1M446 206.5h1" stroke="#ff0000"/>
<path d="M274 160.5h1M292 160.5h1M296 160.5h1M298 160.5h1M300 160.5h1M302 160.5h2M305 160.5h1M309 160.5h1M316 160.5h1M318 160.5h1M320 160.5h1M327 160.5h1M233 161.5h1M253 161.5h1M256 161.5h1M264 161.5h1M266 161.5h2M269 161.5h1M273 161.5h1M275 161.5h2M278 161.5h1M280 161.5h1M282 161.5h1M284 161.5h2M287 161.5h1M289 161.5h1M291 161.5h1M293 161.5h3M297 161.5h1M299 161.5h1M301 161.5h4M306 161.5h3M310 161.5h1M312 161.5h1M314 161.5h2M317 161.5h1M319 161.5h1M321 161.5h1M323 161.5h1M325 161.5h2M328 161.5h1M330 161.5h1M332 161.5h1M338 161.5h2M341 161.5h1M343 161.5h1M232 162.5h1M234 162.5h2M237 162.5h1M242 162.5h1M244 162.5h1M246 162.5h1M248 162.5h2M251 162.5h2M254 162.5h2M257 162.5h2M260 162.5h1M262 162.5h2M265 162.5h4M270 162.5h1M272 162.5h1M274 162.5h4M279 162.5h1M281 162.5h1M283 162.5h4M288 162.5h1M290 162.5h1M292 162.5h5M298 162.5h1M300 162.5h10M311 162.5h1M313 162.5h4M318 162.5h1M320 162.5h1M322 162.5h1M324 162.5h4M329 162.5h1M331 162.5h1M333 162.5h2M336 162.5h5M342 162.5h1M344 162.5h3M348 162.5h1M350 162.5h1M352 162.5h1M356 162.5h1M219 163.5h2M222 163.5h1M224 163.5h1M226 163.5h1M228 163.5h1M230 163.5h2M234 163.5h3M238 163.5h1M240 163.5h2M243 163.5h1M245 163.5h1M247 163.5h6M254 163.5h6M261 163.5h9M271 163.5h1M273 163.5h4M278 163.5h1M280 163.5h1M282 163.5h6M289 163.5h1M291 163.5h3M295 163.5h3M299 163.5h1M301 163.5h6M308 163.5h3M312 163.5h1M314 163.5h4M319 163.5h1M321 163.5h1M323 163.5h1M325 163.5h4M330 163.5h1M332 163.5h6M339 163.5h3M343 163.5h5M349 163.5h1M351 163.5h1M353 163.5h3M357 163.5h1M359 163.5h1M363 163.5h2M366 163.5h1M197 164.5h1M201 164.5h1M206 164.5h1M208 164.5h1M210 164.5h1M212 164.5h2M215 164.5h1M217 164.5h5M223 164.5h1M225 164.5h1M227 164.5h1M229 164.5h7M237 164.5h1M239 164.5h4M244 164.5h1M246 164.5h13M260 164.5h1M262 164.5h7M270 164.5h1M272 164.5h1M274 164.5h2M277 164.5h1M279 164.5h1M281 164.5h1M283 164.5h4M288 164.5h1M290 164.5h1M292 164.5h2M295 164.5h2M298 164.5h1M300 164.5h1M302 164.5h2M305 164.5h2M308 164.5h2M311 164.5h1M313 164.5h1M315 164.5h2M318 164.5h1M320 164.5h1M322 164.5h1M324 164.5h1M326 164.5h2M329 164.5h1M331 164.5h4M336 164.5h5M342 164.5h3M346 164.5h3M350 164.5h1M352 164.5h5M358 164.5h1M360 164.5h6M367 164.5h2M172 165.5h1M186 165.5h1M188 165.5h1M190 165.5h1M192 165.5h1M194 165.5h3M198 165.5h3M202 165.5h1M204 165.5h2M207 165.5h1M209 165.5h1M211 165.5h4M216 165.5h3M220 165.5h3M224 165.5h1M226 165.5h1M228 165.5h3M232 165.5h3M236 165.5h1M238 165.5h1M240 165.5h4M245 165.5h1M247 165.5h4M252 165.5h3M256 165.5h2M259 165.5h1M261 165.5h1M263 165.5h2M266 165.5h2M269 165.5h1M273 165.5h1M276 165.5h1M278 165.5h1M280 165.5h1M282 165.5h1M284 165.5h2M287 165.5h1M289 165.5h1M291 165.5h1M294 165.5h1M307 165.5h1M310 165.5h1M312 165.5h1M314 165.5h1M321 165.5h1M323 165.5h1M325 165.5h1M328 165.5h1M330 165.5h1M332 165.5h2M335 165.5h1M337 165.5h3M341 165.5h1M343 165.5h5M349 165.5h1M351 165.5h3M355 165.5h3M359 165.5h4M364 165.5h7M374 165.5h1M379 165.5h1M166 166.5h1M170 166.5h2M173 166.5h2M176 166.5h1M179 166.5h1M181 166.5h1M183 166.5h3M187 166.5h1M189 166.5h1M191 166.5h1M193 166.5h4M198 166.5h4M203 166.5h4M208 166.5h1M210 166.5h6M217 166.5h5M223 166.5h1M225 166.5h1M227 166.5h1M229 166.5h4M235 166.5h1M237 166.5h1M239 166.5h1M241 166.5h2M244 166.5h1M246 166.5h1M248 166.5h2M251 166.5h1M255 166.5h1M258 166.5h1M260 166.5h1M262 166.5h1M334 166.5h1M336 166.5h1M345 166.5h2M348 166.5h1M350 166.5h1M352 166.5h2M355 166.5h2M358 166.5h3M362 166.5h6M369 166.5h5M375 166.5h1M377 166.5h2M380 166.5h3M163 167.5h1M165 167.5h1M167 167.5h5M173 167.5h3M177 167.5h2M180 167.5h1M182 167.5h5M188 167.5h1M190 167.5h1M192 167.5h3M196 167.5h3M200 167.5h3M204 167.5h4M209 167.5h1M211 167.5h4M216 167.5h1M218 167.5h3M222 167.5h1M224 167.5h1M226 167.5h1M228 167.5h1M230 167.5h2M238 167.5h1M240 167.5h1M354 167.5h1M357 167.5h1M359 167.5h2M362 167.5h3M366 167.5h4M371 167.5h4M376 167.5h3M380 167.5h5M388 167.5h1M154 168.5h1M156 168.5h1M158 168.5h2M161 168.5h2M164 168.5h1M166 168.5h4M171 168.5h4M176 168.5h4M181 168.5h3M185 168.5h3M189 168.5h1M191 168.5h1M193 168.5h6M200 168.5h2M203 168.5h1M205 168.5h2M208 168.5h1M210 168.5h1M212 168.5h2M215 168.5h1M217 168.5h1M361 168.5h1M368 168.5h4M373 168.5h3M377 168.5h4M383 168.5h5M389 168.5h1M148 169.5h1M153 169.5h1M155 169.5h1M157 169.5h7M165 169.5h3M169 169.5h5M175 169.5h1M177 169.5h4M182 169.5h5M188 169.5h1M190 169.5h1M192 169.5h1M194 169.5h2M199 169.5h1M202 169.5h1M204 169.5h1M370 169.5h2M373 169.5h2M376 169.5h1M378 169.5h6M385 169.5h3M390 169.5h1M392 169.5h1M147 170.5h1M149 170.5h2M152 170.5h1M154 170.5h1M156 170.5h9M166 170.5h2M169 170.5h2M174 170.5h1M176 170.5h1M178 170.5h2M181 170.5h1M183 170.5h2M372 170.5h1M375 170.5h1M377 170.5h1M381 170.5h5M387 170.5h3M391 170.5h1M393 170.5h1M141 171.5h1M145 171.5h2M148 171.5h4M153 171.5h1M155 171.5h1M157 171.5h4M162 171.5h2M165 171.5h1M168 171.5h1M177 171.5h1M384 171.5h2M387 171.5h2M390 171.5h1M392 171.5h1M394 171.5h2M397 171.5h1M138 172.5h1M140 172.5h1M142 172.5h9M152 172.5h1M154 172.5h1M156 172.5h1M158 172.5h2M161 172.5h1M386 172.5h1M389 172.5h1M391 172.5h1M393 172.5h4M398 172.5h2M136 173.5h2M139 173.5h2M142 173.5h3M146 173.5h4M151 173.5h1M153 173.5h1M390 173.5h1M392 173.5h4M397 173.5h4M402 173.5h1M404 173.5h1M134 174.5h4M139 174.5h4M144 174.5h4M150 174.5h1M152 174.5h1M393 174.5h2M396 174.5h4M401 174.5h1M403 174.5h1M405 174.5h1M132 175.5h4M137 175.5h3M141 175.5h2M144 175.5h2M395 175.5h1M397 175.5h2M400 175.5h1M402 175.5h1M404 175.5h1M406 175.5h1M408 175.5h1M131 176.5h3M135 176.5h5M141 176.5h1M143 176.5h1M399 176.5h1M401 176.5h1M403 176.5h1M405 176.5h1M407 176.5h1M409 176.5h3M413 176.5h1M130 177.5h1M133 177.5h4M140 177.5h1M400 177.5h1M402 177.5h1M404 177.5h1M406 177.5h1M408 177.5h5M414 177.5h2M417 177.5h1M131 178.5h1M133 178.5h2M405 178.5h1M407 178.5h3M411 178.5h6M418 178.5h1M132 179.5h1M406 179.5h1M408 179.5h8M417 179.5h1M419 179.5h2M422 179.5h1M410 180.5h2M413 180.5h2M416 180.5h1M418 180.5h4M423 180.5h2M426 180.5h1M415 181.5h1M417 181.5h4M422 181.5h4M427 181.5h2M418 182.5h2M421 182.5h4M426 182.5h4M420 183.5h1M422 183.5h2M425 183.5h4M430 183.5h2M424 184.5h1M426 184.5h2M429 184.5h5M428 185.5h3M432 185.5h3M429 186.5h4M435 186.5h2M431 187.5h2M434 187.5h5M433 188.5h2M437 188.5h3M434 189.5h4M440 189.5h1M435 190.5h3M439 190.5h1M441 190.5h1M438 191.5h1M442 191.5h1M439 192.5h1M441 192.5h1M443 192.5h1M440 193.5h1M444 193.5h1M441 194.5h1M443 194.5h1M445 194.5h1M442 195.5h1M446 195.5h1M443 196.5h1M445 196.5h2M444 197.5h2M447 197.5h1M444 198.5h1M448 198.5h1M445 199.5h1M447 199.5h1M446 200.5h1M447 204.5h1M446 205.5h1M448 205.5h1M445 206.5h1M449 206.5h1M446 207.5h1M448 207.5h1M447 208.5h1M449 210.5h1M453 210.5h1M448 211.5h1M450 211.5h3M454 211.5h1M447 212.5h1M450 212.5h4M455 212.5h1M448 213.5h3M452 213.5h3M456 213.5h1M449 214.5h2M452 214.5h2M455 214.5h1M451 215.5h1M454 215.5h1" stroke="#ff0000"/>
<path d="M328 164.5h1M292 165.5h1M300 165.5h1M302 165.5h2M309 165.5h2M312 165.5h1M314 165.5h1M316 165.5h1M327 165.5h1M329 165.5h1M238 166.5h1M258 166.5h1M266 166.5h2M269 166.5h1M273 166.5h1M276 166.5h1M278 166.5h1M280 166.5h1M284 166.5h2M287 166.5h1M289 166.5h1M291 166.5h1M293 166.5h1M296 166.5h1M298 166.5h2M301 166.5h5M307 166.5h5M313 166.5h1M315 166.5h1M317 166.5h2M320 166.5h1M323 166.5h1M325 166.5h2M328 166.5h1M330 166.5h1M332 166.5h1M336 166.5h1M339 166.5h1M345 166.5h1M348 166.5h1M237 167.5h1M239 167.5h1M242 167.5h1M248 167.5h2M251 167.5h1M253 167.5h1M255 167.5h3M259 167.5h2M262 167.5h1M264 167.5h5M270 167.5h1M272 167.5h1M274 167.5h2M277 167.5h1M279 167.5h1M281 167.5h6M288 167.5h1M290 167.5h1M292 167.5h1M294 167.5h2M297 167.5h6M304 167.5h5M310 167.5h3M314 167.5h1M316 167.5h4M321 167.5h2M324 167.5h4M329 167.5h1M331 167.5h1M333 167.5h3M337 167.5h2M340 167.5h2M343 167.5h2M346 167.5h2M349 167.5h1M356 167.5h1M226 168.5h1M228 168.5h1M230 168.5h2M233 168.5h1M235 168.5h3M240 168.5h2M243 168.5h2M246 168.5h5M252 168.5h1M254 168.5h4M259 168.5h3M263 168.5h3M267 168.5h3M271 168.5h1M273 168.5h4M278 168.5h1M280 168.5h4M285 168.5h3M289 168.5h1M291 168.5h1M293 168.5h4M298 168.5h8M307 168.5h5M313 168.5h1M315 168.5h4M320 168.5h4M325 168.5h4M330 168.5h1M332 168.5h4M337 168.5h11M350 168.5h1M352 168.5h1M354 168.5h2M357 168.5h1M359 168.5h1M197 169.5h1M212 169.5h1M217 169.5h1M220 169.5h1M222 169.5h1M224 169.5h2M227 169.5h1M229 169.5h4M234 169.5h1M236 169.5h6M243 169.5h5M249 169.5h3M253 169.5h3M257 169.5h4M262 169.5h1M264 169.5h5M270 169.5h1M272 169.5h1M274 169.5h4M279 169.5h3M283 169.5h4M288 169.5h1M290 169.5h1M292 169.5h1M295 169.5h3M299 169.5h2M302 169.5h3M306 169.5h1M308 169.5h3M312 169.5h1M314 169.5h1M316 169.5h2M319 169.5h1M321 169.5h4M326 169.5h2M329 169.5h1M331 169.5h3M335 169.5h7M343 169.5h7M351 169.5h1M353 169.5h4M358 169.5h1M360 169.5h2M363 169.5h2M366 169.5h1M174 170.5h1M183 170.5h2M186 170.5h1M188 170.5h1M190 170.5h1M194 170.5h1M196 170.5h1M198 170.5h2M201 170.5h2M204 170.5h1M206 170.5h1M208 170.5h1M210 170.5h2M213 170.5h1M215 170.5h2M218 170.5h2M221 170.5h1M223 170.5h4M228 170.5h6M235 170.5h1M237 170.5h3M241 170.5h4M246 170.5h5M252 170.5h1M254 170.5h6M261 170.5h1M263 170.5h1M265 170.5h3M269 170.5h1M273 170.5h1M275 170.5h2M278 170.5h1M280 170.5h2M283 170.5h3M287 170.5h1M289 170.5h1M291 170.5h1M293 170.5h1M295 170.5h2M298 170.5h1M305 170.5h1M307 170.5h1M318 170.5h1M320 170.5h1M322 170.5h2M325 170.5h1M330 170.5h1M332 170.5h2M335 170.5h3M339 170.5h2M342 170.5h1M344 170.5h2M347 170.5h2M350 170.5h1M352 170.5h1M354 170.5h4M359 170.5h7M367 170.5h2M370 170.5h1M372 170.5h1M166 171.5h1M168 171.5h1M170 171.5h1M172 171.5h2M175 171.5h3M179 171.5h1M181 171.5h5M187 171.5h1M189 171.5h1M191 171.5h3M195 171.5h1M198 171.5h6M205 171.5h1M207 171.5h1M209 171.5h4M214 171.5h3M218 171.5h3M222 171.5h1M224 171.5h4M229 171.5h4M234 171.5h1M236 171.5h1M238 171.5h2M241 171.5h3M245 171.5h1M247 171.5h3M251 171.5h1M253 171.5h1M255 171.5h2M260 171.5h1M262 171.5h1M264 171.5h1M274 171.5h1M282 171.5h1M294 171.5h1M321 171.5h1M334 171.5h1M338 171.5h1M341 171.5h1M343 171.5h1M346 171.5h1M349 171.5h1M351 171.5h1M353 171.5h1M355 171.5h2M358 171.5h12M371 171.5h1M373 171.5h3M161 172.5h1M163 172.5h1M165 172.5h1M167 172.5h1M169 172.5h1M171 172.5h3M175 172.5h4M180 172.5h3M184 172.5h3M188 172.5h1M190 172.5h5M196 172.5h9M206 172.5h1M208 172.5h1M210 172.5h4M215 172.5h5M221 172.5h1M223 172.5h1M225 172.5h2M228 172.5h1M230 172.5h2M233 172.5h1M235 172.5h1M237 172.5h1M240 172.5h1M244 172.5h1M246 172.5h1M350 172.5h1M352 172.5h1M354 172.5h1M357 172.5h1M359 172.5h2M362 172.5h7M370 172.5h1M372 172.5h6M379 172.5h1M381 172.5h2M384 172.5h1M158 173.5h3M162 173.5h1M164 173.5h1M166 173.5h1M168 173.5h1M170 173.5h1M172 173.5h4M177 173.5h3M181 173.5h5M187 173.5h1M189 173.5h3M193 173.5h3M197 173.5h2M200 173.5h4M205 173.5h1M207 173.5h1M209 173.5h1M211 173.5h2M214 173.5h1M216 173.5h3M220 173.5h1M222 173.5h1M224 173.5h1M361 173.5h1M363 173.5h2M366 173.5h2M369 173.5h1M371 173.5h3M376 173.5h3M380 173.5h4M385 173.5h1M150 174.5h1M152 174.5h1M156 174.5h6M163 174.5h1M165 174.5h1M167 174.5h1M169 174.5h1M171 174.5h1M173 174.5h6M180 174.5h1M182 174.5h3M186 174.5h1M188 174.5h1M190 174.5h2M193 174.5h2M196 174.5h1M199 174.5h1M201 174.5h2M204 174.5h1M206 174.5h1M208 174.5h1M210 174.5h1M213 174.5h1M215 174.5h1M219 174.5h1M368 174.5h1M370 174.5h1M372 174.5h6M379 174.5h6M386 174.5h1M388 174.5h1M148 175.5h2M151 175.5h1M153 175.5h5M160 175.5h3M164 175.5h1M166 175.5h1M168 175.5h1M170 175.5h1M172 175.5h1M176 175.5h2M179 175.5h1M181 175.5h1M192 175.5h1M195 175.5h1M374 175.5h3M378 175.5h1M380 175.5h4M385 175.5h1M387 175.5h1M389 175.5h2M393 175.5h1M145 176.5h1M147 176.5h4M152 176.5h4M157 176.5h5M163 176.5h1M165 176.5h1M377 176.5h1M379 176.5h1M381 176.5h2M384 176.5h1M386 176.5h1M388 176.5h5M394 176.5h2M141 177.5h1M143 177.5h2M146 177.5h1M148 177.5h6M155 177.5h5M385 177.5h1M387 177.5h3M391 177.5h7M399 177.5h1M138 178.5h1M140 178.5h1M142 178.5h4M147 178.5h1M149 178.5h2M152 178.5h2M155 178.5h2M386 178.5h1M388 178.5h7M396 178.5h3M400 178.5h1M137 179.5h1M139 179.5h3M143 179.5h4M148 179.5h1M154 179.5h1M390 179.5h2M393 179.5h5M399 179.5h1M401 179.5h2M404 179.5h1M136 180.5h1M139 180.5h4M144 180.5h2M147 180.5h1M392 180.5h1M395 180.5h2M398 180.5h1M400 180.5h4M405 180.5h2M408 180.5h1M134 181.5h1M136 181.5h4M141 181.5h3M397 181.5h1M399 181.5h4M404 181.5h4M409 181.5h3M132 182.5h2M135 182.5h1M137 182.5h3M141 182.5h1M400 182.5h2M403 182.5h4M408 182.5h6M131 183.5h4M136 183.5h1M138 183.5h1M140 183.5h1M402 183.5h1M404 183.5h2M407 183.5h3M412 183.5h4M417 183.5h2M130 184.5h1M133 184.5h3M137 184.5h1M406 184.5h1M408 184.5h5M414 184.5h7M131 185.5h1M133 185.5h2M136 185.5h1M410 185.5h8M419 185.5h4M132 186.5h1M413 186.5h2M416 186.5h4M421 186.5h4M426 186.5h1M428 186.5h1M415 187.5h1M417 187.5h5M423 187.5h3M427 187.5h1M429 187.5h1M420 188.5h5M426 188.5h1M428 188.5h3M422 189.5h2M425 189.5h1M427 189.5h5M433 189.5h1M424 190.5h1M426 190.5h3M430 190.5h3M434 190.5h2M438 190.5h1M428 191.5h4M433 191.5h5M439 191.5h1M429 192.5h2M432 192.5h6M440 192.5h1M431 193.5h1M433 193.5h2M436 193.5h4M441 193.5h2M435 194.5h1M437 194.5h2M441 194.5h3M436 195.5h1M439 195.5h3M444 195.5h1M440 196.5h2M443 196.5h1M445 196.5h1M442 197.5h1M446 197.5h1M443 198.5h1M445 198.5h2M444 199.5h2M447 199.5h1M444 200.5h1M448 200.5h1M445 201.5h1M447 201.5h1M446 202.5h1M447 205.5h1M446 206.5h1M448 206.5h1M445 207.5h1M449 207.5h1M446 208.5h1M448 208.5h1M447 209.5h1M449 210.5h1M453 210.5h1M448 211.5h1M450 211.5h3M454 211.5h1M447 212.5h1M450 212.5h4M455 212.5h1M448 213.5h3M452 213.5h3M456 213.5h1M449 214.5h2M452 214.5h2M455 214.5h1M451 215.5h1M454 215.5h1" stroke="#000000"/>
<path d="M448 215.5h1M448 216.5h1M446 217.5h5M446 218.5h5M448 219.5h1M448 220.5h1" stroke="#ff0000"/>
<path d="M277 338.5h1M290 338.5h1M295 338.5h1M305 338.5h1M277 339.5h1M290 339.5h1M292 339.5h1M295 339.5h1M298 339.5h1M301 339.5h1M305 339.5h1M309 339.5h1M314 339.5h1M321 339.5h1M326 339.5h1M334 339.5h1M272 340.5h1M275 340.5h5M284 340.5h1M286 340.5h1M288 340.5h11M300 340.5h2M303 340.5h5M309 340.5h1M311 340.5h1M314 340.5h1M316 340.5h2M319 340.5h1M321 340.5h1M326 340.5h1M334 340.5h1M344 340.5h1M272 341.5h1M275 341.5h1M277 341.5h1M284 341.5h1M286 341.5h1M288 341.5h1M290 341.5h14M305 341.5h1M307 341.5h11M319 341.5h10M331 341.5h7M339 341.5h1M342 341.5h1M344 341.5h1M348 341.5h1M350 341.5h1M354 341.5h1M362 341.5h1M264 342.5h1M266 342.5h1M270 342.5h6M277 342.5h1M279 342.5h1M281 342.5h8M290 342.5h6M297 342.5h25M323 342.5h1M325 342.5h2M328 342.5h1M331 342.5h1M333 342.5h2M337 342.5h1M339 342.5h1M342 342.5h5M348 342.5h1M350 342.5h1M352 342.5h1M354 342.5h1M356 342.5h1M358 342.5h1M360 342.5h1M362 342.5h1M264 343.5h1M266 343.5h1M268 343.5h1M272 343.5h6M279 343.5h1M281 343.5h1M284 343.5h1M286 343.5h5M292 343.5h2M295 343.5h7M303 343.5h1M307 343.5h1M309 343.5h1M311 343.5h1M314 343.5h1M316 343.5h2M319 343.5h1M321 343.5h24M346 343.5h11M358 343.5h1M360 343.5h5M366 343.5h1M369 343.5h1M261 344.5h8M270 344.5h1M272 344.5h1M275 344.5h1M277 344.5h8M286 344.5h1M288 344.5h1M293 344.5h1M297 344.5h1M300 344.5h1M303 344.5h1M307 344.5h1M311 344.5h1M316 344.5h2M319 344.5h1M323 344.5h1M325 344.5h1M328 344.5h1M331 344.5h1M333 344.5h1M337 344.5h1M339 344.5h1M342 344.5h1M344 344.5h5M350 344.5h13M364 344.5h1M366 344.5h1M368 344.5h2M261 345.5h1M264 345.5h1M266 345.5h5M275 345.5h1M279 345.5h1M281 345.5h1M288 345.5h1M297 345.5h1M323 345.5h1M325 345.5h1M328 345.5h1M331 345.5h1M333 345.5h1M337 345.5h1M339 345.5h1M342 345.5h1M346 345.5h1M348 345.5h1M350 345.5h1M352 345.5h1M354 345.5h1M356 345.5h1M358 345.5h1M360 345.5h1M362 345.5h10M259 346.5h6M266 346.5h1M268 346.5h5M279 346.5h1M281 346.5h1M346 346.5h1M352 346.5h1M356 346.5h1M358 346.5h1M360 346.5h1M364 346.5h1M366 346.5h6M377 346.5h1M259 347.5h1M261 347.5h1M268 347.5h1M270 347.5h1M364 347.5h1M366 347.5h1M368 347.5h6M376 347.5h2M379 347.5h2M246 348.5h1M254 348.5h1M256 348.5h6M270 348.5h1M368 348.5h1M371 348.5h1M375 348.5h6M382 348.5h1M246 349.5h1M248 349.5h1M250 349.5h1M254 349.5h1M256 349.5h1M258 349.5h2M371 349.5h1M374 349.5h9M240 350.5h1M242 350.5h1M244 350.5h5M250 350.5h1M252 350.5h9M374 350.5h1M376 350.5h2M379 350.5h6M240 351.5h1M242 351.5h1M244 351.5h1M246 351.5h7M254 351.5h1M256 351.5h1M258 351.5h1M372 351.5h5M379 351.5h2M382 351.5h2M232 352.5h1M238 352.5h7M246 352.5h1M248 352.5h1M250 352.5h5M256 352.5h1M258 352.5h1M374 352.5h1M381 352.5h5M232 353.5h1M234 353.5h1M237 353.5h1M240 353.5h1M242 353.5h5M248 353.5h1M250 353.5h1M252 353.5h1M374 353.5h1M383 353.5h1M226 354.5h1M229 354.5h6M236 354.5h2M240 354.5h1M242 354.5h1M244 354.5h1M252 354.5h1M383 354.5h1M385 354.5h1M226 355.5h1M229 355.5h1M231 355.5h9M244 355.5h1M385 355.5h1M224 356.5h15M383 356.5h6M221 357.5h1M223 357.5h1M225 357.5h2M229 357.5h1M231 357.5h1M234 357.5h1M236 357.5h2M385 357.5h1M388 357.5h1M390 357.5h1M393 357.5h1M396 357.5h1M214 358.5h1M221 358.5h1M223 358.5h1M225 358.5h2M229 358.5h1M231 358.5h1M236 358.5h1M385 358.5h6M393 358.5h1M395 358.5h2M210 359.5h1M214 359.5h1M219 359.5h9M388 359.5h11M210 360.5h1M212 360.5h6M219 360.5h1M221 360.5h1M223 360.5h1M225 360.5h1M388 360.5h1M390 360.5h2M393 360.5h6M208 361.5h5M214 361.5h1M216 361.5h2M219 361.5h1M221 361.5h1M223 361.5h1M225 361.5h1M389 361.5h5M395 361.5h7M403 361.5h1M210 362.5h12M391 362.5h1M395 362.5h1M398 362.5h1M400 362.5h2M403 362.5h1M405 362.5h1M201 363.5h1M203 363.5h1M206 363.5h2M209 363.5h2M212 363.5h1M214 363.5h6M391 363.5h1M398 363.5h8M201 364.5h1M203 364.5h1M206 364.5h2M209 364.5h1M212 364.5h1M216 364.5h2M219 364.5h1M400 364.5h2M403 364.5h6M198 365.5h14M216 365.5h1M400 365.5h2M403 365.5h1M405 365.5h1M408 365.5h1M196 366.5h1M198 366.5h2M201 366.5h1M203 366.5h1M206 366.5h2M209 366.5h1M405 366.5h6M193 367.5h1M196 367.5h6M203 367.5h1M206 367.5h2M209 367.5h1M408 367.5h1M410 367.5h1M193 368.5h9M408 368.5h1M410 368.5h1M189 369.5h1M191 369.5h6M198 369.5h2M408 369.5h5M445 369.5h1M185 370.5h1M187 370.5h1M189 370.5h1M191 370.5h1M193 370.5h1M196 370.5h1M199 370.5h1M410 370.5h1M445 370.5h1M183 371.5h1M185 371.5h1M187 371.5h7M410 371.5h1M443 371.5h5M175 372.5h1M178 372.5h1M181 372.5h1M183 372.5h7M191 372.5h1M445 372.5h1M175 373.5h2M178 373.5h1M181 373.5h5M187 373.5h1M189 373.5h1M191 373.5h1M445 373.5h1M173 374.5h11M185 374.5h1M187 374.5h1M171 375.5h1M173 375.5h6M181 375.5h1M183 375.5h1M168 376.5h2M171 376.5h1M173 376.5h1M175 376.5h2M178 376.5h1M181 376.5h1M166 377.5h1M168 377.5h9M166 378.5h6M173 378.5h1M164 379.5h6M171 379.5h1M173 379.5h1M164 380.5h1M166 380.5h1M168 380.5h2M158 381.5h1M162 381.5h5M152 382.5h1M158 382.5h1M160 382.5h1M162 382.5h1M164 382.5h1M151 383.5h2M154 383.5h1M156 383.5h9M150 384.5h5M156 384.5h1M158 384.5h5M149 385.5h10M160 385.5h1M162 385.5h1M149 386.5h1M151 386.5h2M154 386.5h1M156 386.5h1M160 386.5h1M145 387.5h1M147 387.5h1M149 387.5h1M151 387.5h1M154 387.5h1M156 387.5h1M145 388.5h1M147 388.5h5M143 389.5h7M143 390.5h1M145 390.5h1M147 390.5h1M149 390.5h1M141 391.5h1M143 391.5h1M145 391.5h1M147 391.5h1M138 392.5h1M141 392.5h5M134 393.5h1M138 393.5h6M134 394.5h1M136 394.5h6M143 394.5h1M132 395.5h5M138 395.5h1M141 395.5h1M134 396.5h5M134 397.5h1M136 397.5h1M136 398.5h1" stroke="#ff0000"/>
<path d="M329 342.5h26M310 343.5h19M354 343.5h19M299 344.5h12M372 344.5h12M290 345.5h10M383 345.5h10M283 346.5h8M392 346.5h8M276 347.5h8M400 347.5h7M270 348.5h7M406 348.5h7M265 349.5h6M412 349.5h6M260 350.5h6M418 350.5h5M255 351.5h6M423 351.5h5M250 352.5h6M428 352.5h5M246 353.5h5M432 353.5h5M242 354.5h5M436 354.5h5M238 355.5h5M441 355.5h4M234 356.5h5M445 356.5h4M230 357.5h5M448 357.5h5M227 358.5h4M452 358.5h4M223 359.5h5M456 359.5h4M220 360.5h4M459 360.5h4M217 361.5h4M463 361.5h4M213 362.5h4M466 362.5h4M210 363.5h4M469 363.5h4M207 364.5h4M472 364.5h4M204 365.5h4M475 365.5h4M201 366.5h4M478 366.5h4M198 367.5h4M481 367.5h4M196 368.5h3M484 368.5h4M193 369.5h3M487 369.5h2M190 370.5h4M188 371.5h3M185 372.5h3M182 373.5h4M180 374.5h3M177 375.5h4M175 376.5h3M172 377.5h4M170 378.5h3M168 379.5h3M165 380.5h4M163 381.5h3M161 382.5h3M159 383.5h3M156 384.5h3M154 385.5h3M152 386.5h3M150 387.5h3M148 388.5h3M146 389.5h3M144 390.5h3M142 391.5h3M140 392.5h2M138 393.5h2M136 394.5h2M134 395.5h2" stroke="#ff0000"/>
<path d="M132 505.5h357" stroke="#ff0000"/>
<path d="M133 406.5h1M133 407.5h1M133 408.5h2M134 409.5h1M135 410.5h1M135 411.5h1M136 412.5h1M136 413.5h2M137 414.5h1M137 415.5h2M138 416.5h1M139 417.5h1M139 418.5h2M140 419.5h1M140 420.5h2M141 421.5h1M142 422.5h1M142 423.5h2M143 424.5h1M143 425.5h2M144 426.5h1M145 427.5h1M145 428.5h2M146 429.5h1M147 430.5h1M147 431.5h2M148 432.5h1M148 433.5h2M149 434.5h1M150 435.5h1M150 436.5h2M151 437.5h1M152 438.5h1M152 439.5h2M153 440.5h1M154 441.5h1M154 442.5h2M155 443.5h1M155 444.5h2M156 445.5h2M157 446.5h1M157 447.5h2M158 448.5h1M159 449.5h1M159 450.5h2M160 451.5h1M161 452.5h1M161 453.5h2M162 454.5h2M163 455.5h1M163 456.5h2M164 457.5h2M165 458.5h1M165 459.5h2M166 460.5h2M167 461.5h1M168 462.5h1M168 463.5h2M169 464.5h1M170 465.5h1M170 466.5h2M171 467.5h2M172 468.5h1M172 469.5h2M173 470.5h2M174 471.5h1M175 472.5h1M175 473.5h2M176 474.5h2M177 475.5h1M178 476.5h1M178 477.5h2M179 478.5h2M180 479.5h1M181 480.5h1M181 481.5h2M182 482.5h2M183 483.5h1M184 484.5h1M184 485.5h2M185 486.5h2M186 487.5h1M187 488.5h1M187 489.5h2M188 490.5h2M189 491.5h2M190 492.5h1M191 493.5h1M191 494.5h2M192 495.5h2M193 496.5h2M194 497.5h1M195 498.5h1M487 498.5h2M196 499.5h1M486 499.5h2M196 500.5h2M485 500.5h2M197 501.5h2M484 501.5h2M198 502.5h2M484 502.5h1M199 503.5h1M483 503.5h1M200 504.5h1M482 504.5h2M201 505.5h1M481 505.5h2M201 506.5h2M480 506.5h2M202 507.5h2M479 507.5h2M203 508.5h2M478 508.5h2M204 509.5h2M478 509.5h1M205 510.5h2M477 510.5h1M206 511.5h1M476 511.5h1M207 512.5h1M475 512.5h2M208 513.5h1M474 513.5h2M209 514.5h1M473 514.5h2M209 515.5h2M472 515.5h2M210 516.5h2M471 516.5h2M211 517.5h2M470 517.5h2M212 518.5h2M469 518.5h2M213 519.5h2M468 519.5h2M214 520.5h2M467 520.5h2M215 521.5h2M466 521.5h2M216 522.5h2M465 522.5h2M217 523.5h2M465 523.5h1M218 524.5h2M464 524.5h1M219 525.5h2M463 525.5h1M220 526.5h2M462 526.5h1M221 527.5h2M461 527.5h1M222 528.5h2M460 528.5h1M223 529.5h2M458 529.5h2M224 530.5h2M457 530.5h2M225 531.5h2M456 531.5h2M226 532.5h2M455 532.5h2M227 533.5h2M454 533.5h2M228 534.5h2M453 534.5h2M229 535.5h2M452 535.5h2M230 536.5h2M451 536.5h2M231 537.5h2M450 537.5h2M233 538.5h1M449 538.5h2M234 539.5h2M448 539.5h2M235 540.5h2M447 540.5h1M236 541.5h2M445 541.5h2M237 542.5h2M444 542.5h2M238 543.5h2M443 543.5h2M239 544.5h2M442 544.5h2M241 545.5h2M441 545.5h2M242 546.5h2M439 546.5h2M243 547.5h2M438 547.5h2M244 548.5h2M437 548.5h2M246 549.5h2M436 549.5h2M247 550.5h2M434 550.5h2M248 551.5h2M433 551.5h2M249 552.5h3M432 552.5h2M251 553.5h2M430 553.5h2M252 554.5h2M429 554.5h2M253 555.5h3M428 555.5h2M255 556.5h2M426 556.5h2M256 557.5h2M425 557.5h2M258 558.5h2M423 558.5h3M259 559.5h2M422 559.5h2M261 560.5h2M420 560.5h3M262 561.5h2M419 561.5h2M264 562.5h2M417 562.5h3M265 563.5h3M416 563.5h2M267 564.5h2M414 564.5h2M269 565.5h2M412 565.5h3M270 566.5h3M411 566.5h2M272 567.5h2M409 567.5h2M274 568.5h2M407 568.5h3M275 569.5h3M405 569.5h3M277 570.5h3M403 570.5h3M279 571.5h3M401 571.5h3M281 572.5h3M399 572.5h3M283 573.5h3M397 573.5h3M285 574.5h3M395 574.5h3M288 575.5h3M393 575.5h3M290 576.5h3M390 576.5h3M292 577.5h4M388 577.5h3M295 578.5h3M385 578.5h3M298 579.5h3M382 579.5h4M300 580.5h4M379 580.5h4M304 581.5h4M376 581.5h4M307 582.5h4M372 582.5h4M311 583.5h5M368 583.5h5M315 584.5h6M363 584.5h5M320 585.5h7M356 585.5h7M327 586.5h30" stroke="#000000"/>
<path d="M520 31.5h1M519 32.5h1M521 32.5h1M518 33.5h1M522 33.5h1M517 34.5h1M523 34.5h1M516 35.5h1M524 35.5h1M517 36.5h1M523 36.5h1M518 37.5h1M522 37.5h1M519 38.5h1M521 38.5h1M520 39.5h1" stroke="#0000ff"/>
<path d="M520 43.5h1M520 44.5h1M520 45.5h1M520 46.5h1M516 47.5h9M520 48.5h1M520 49.5h1M520 50.5h1M520 51.5h1" stroke="#0000ff"/>
<path d="M520 55.5h1M520 56.5h1M520 57.5h1M520 58.5h1M516 59.5h9M520 60.5h1M520 61.5h1M520 62.5h1M520 63.5h1" stroke="#00ff00"/>
<path d="M516 67.5h1M524 67.5h1M517 68.5h1M523 68.5h1M518 69.5h1M522 69.5h1M519 70.5h1M521 70.5h1M520 71.5h1M519 72.5h1M521 72.5h1M518 73.5h1M522 73.5h1M517 74.5h1M523 74.5h1M516 75.5h1M524 75.5h1" stroke="#00ff00"/>
<path d="M516 79.5h1M524 79.5h1M517 80.5h1M523 80.5h1M518 81.5h1M522 81.5h1M519 82.5h1M521 82.5h1M520 83.5h1M519 84.5h1M521 84.5h1M518 85.5h1M522 85.5h1M517 86.5h1M523 86.5h1M516 87.5h1M524 87.5h1" stroke="#00ff00"/>
<path d="M520 91.5h1M520 92.5h1M520 93.5h1M520 94.5h1M516 95.5h9M520 96.5h1M520 97.5h1M520 98.5h1M520 99.5h1" stroke="#ff0000"/>
<path d="M520 103.5h1M519 104.5h1M521 104.5h1M518 105.5h1M522 105.5h1M517 106.5h1M523 106.5h1M516 107.5h1M524 107.5h1M517 108.5h1M523 108.5h1M518 109.5h1M522 109.5h1M519 110.5h1M521 110.5h1M520 111.5h1" stroke="#ff0000"/>
<path d="M520 115.5h1M519 116.5h1M521 116.5h1M518 117.5h1M522 117.5h1M517 118.5h1M523 118.5h1M516 119.5h1M524 119.5h1M517 120.5h1M523 120.5h1M518 121.5h1M522 121.5h1M519 122.5h1M521 122.5h1M520 123.5h1" stroke="#000000"/>
<path d="M520 221.5h1M520 222.5h1M520 223.5h1M520 224.5h1M516 225.5h9M520 226.5h1M520 227.5h1M520 228.5h1M520 229.5h1" stroke="#ff0000"/>
</g>
<g style="will-change:transform">
<text font-size="15.96" fill="#000"><tspan y="17.00" x="125.44 136.04 146.64 157.24 167.83 178.43 189.03 199.63 211.39 217.64 228.77 240.00 244.40 255.36 266.49">20250129 DCINT </tspan><tspan y="20.44" x="275.67" font-size="22.35">/</tspan><tspan y="17.00" x="286.63 293.15 301.89 312.84 324.77 334.31 343.93 354.26 363.98 375.12"> LCOFFSET </tspan><tspan y="20.44" x="384.30" font-size="22.35">/</tspan><tspan y="17.00" x="395.25 401.78 412.81 422.71 434.27 444.78 456.79"> HACPOS</tspan></text>
<text font-size="13.00" fill="#000"><tspan y="609.60" x="104.48 113.11 121.39 126.06 134.69">00:00</tspan></text>
<text font-size="13.00" fill="#000"><tspan y="609.60" x="190.88 199.51 207.79 212.46 221.09">02:00</tspan></text>
<text font-size="13.00" fill="#000"><tspan y="609.60" x="277.28 285.91 294.19 298.86 307.49">04:00</tspan></text>
<text font-size="13.00" fill="#000"><tspan y="609.60" x="363.68 372.31 380.59 385.26 393.89">06:00</tspan></text>
<text font-size="13.00" fill="#000"><tspan y="609.60" x="450.08 458.71 466.99 471.66 480.29">08:00</tspan></text>
<text font-size="12.80" fill="#000"><tspan y="625.80" x="179.10 188.39 193.20 201.42 207.09 213.04 217.71 225.30 229.46 241.44 250.44">Start Time </tspan><tspan y="626.10" x="256.21" font-size="14.34">(</tspan><tspan y="625.80" x="262.26 270.76">28</tspan><tspan y="625.11" x="278.84" textLength="10.62" lengthAdjust="spacingAndGlyphs">-</tspan><tspan y="625.80" x="289.82 296.90 304.98">Jan</tspan><tspan y="625.11" x="312.84" textLength="10.62" lengthAdjust="spacingAndGlyphs">-</tspan><tspan y="625.80" x="324.32 332.82 342.25 348.12 356.62 364.78 369.37 377.87 386.03 390.62 399.12">25 23:00:00</tspan><tspan y="626.10" x="407.52" font-size="14.34">)</tspan></text>
<text font-size="13.00" fill="#000"><tspan y="32.00" x="36.47">5</tspan><tspan y="33.10" x="44.28" font-size="16.64">×</tspan><tspan y="32.00" x="54.59 63.22">10</tspan><tspan y="26.20" x="71.58" font-size="8.06">4</tspan></text>
<text font-size="13.00" fill="#000"><tspan y="66.30" x="36.47">4</tspan><tspan y="67.40" x="44.28" font-size="16.64">×</tspan><tspan y="66.30" x="54.59 63.22">10</tspan><tspan y="60.50" x="71.58" font-size="8.06">4</tspan></text>
<text font-size="13.00" fill="#000"><tspan y="104.30" x="36.47">3</tspan><tspan y="105.40" x="44.28" font-size="16.64">×</tspan><tspan y="104.30" x="54.59 63.22">10</tspan><tspan y="98.50" x="71.58" font-size="8.06">4</tspan></text>
<text font-size="13.00" fill="#000"><tspan y="142.30" x="36.47">2</tspan><tspan y="143.40" x="44.28" font-size="16.64">×</tspan><tspan y="142.30" x="54.59 63.22">10</tspan><tspan y="136.50" x="71.58" font-size="8.06">4</tspan></text>
<text font-size="13.00" fill="#000"><tspan y="180.30" x="36.47">1</tspan><tspan y="181.40" x="44.28" font-size="16.64">×</tspan><tspan y="180.30" x="54.59 63.22">10</tspan><tspan y="174.50" x="71.58" font-size="8.06">4</tspan></text>
<text font-size="13.00" fill="#000"><tspan y="213.00" x="68.57">0</tspan></text>
<text font-size="13.00" fill="#000"><tspan y="226.17" x="38.37 46.65 51.31 59.94 68.57">0.020</tspan></text>
<text font-size="13.00" fill="#000"><tspan y="262.52" x="38.37 46.65 51.31 59.94 68.57">0.015</tspan></text>
<text font-size="13.00" fill="#000"><tspan y="298.86" x="38.37 46.65 51.31 59.94 68.57">0.010</tspan></text>
<text font-size="13.00" fill="#000"><tspan y="335.21" x="38.37 46.65 51.31 59.94 68.57">0.005</tspan></text>
<text font-size="13.00" fill="#000"><tspan y="371.55" x="38.37 46.65 51.31 59.94 68.57">0.000</tspan></text>
<text font-size="13.00" fill="#000"><tspan y="435.45" x="42.68 51.31 59.94 68.57">2314</tspan></text>
<text font-size="13.00" fill="#000"><tspan y="473.15" x="42.68 51.31 59.94 68.57">2312</tspan></text>
<text font-size="13.00" fill="#000"><tspan y="510.85" x="42.68 51.31 59.94 68.57">2310</tspan></text>
<text font-size="13.00" fill="#000"><tspan y="548.55" x="42.68 51.31 59.94 68.57">2308</tspan></text>
<text font-size="13.00" fill="#000"><tspan y="586.25" x="42.68 51.31 59.94 68.57">2306</tspan></text>
<text font-size="13.60" fill="#000" transform="translate(25.00 165.28) rotate(-90)"><tspan y="0.00" x="-0.43 8.55 17.76 21.15 30.02 39.12">DCINT </tspan><tspan y="0.30" x="45.30" font-size="15.23">[</tspan><tspan y="0.00" x="50.85 58.37 66.49 74.61 83.12">count</tspan><tspan y="0.30" x="88.45" font-size="15.23">]</tspan></text>
<text font-size="13.60" fill="#000" transform="translate(27.00 360.32) rotate(-90)"><tspan y="0.00" x="-0.15 6.84 15.64 25.32 33.01 40.75 49.08 56.93 66.03">LCOFFSET </tspan><tspan y="0.30" x="72.21" font-size="15.23">[</tspan><tspan y="0.00" x="77.60 86.18">nm</tspan><tspan y="0.30" x="99.13" font-size="15.23">]</tspan></text>
<text font-size="13.60" fill="#000" transform="translate(31.60 581.30) rotate(-90)"><tspan y="0.00" x="-0.18 7.39 10.84 18.68 27.77 33.46 40.71 48.55 57.01 61.47 69.56 76.08 81.60 89.65 97.66 104.85 108.71 113.32 116.77 124.82 134.13">Line center position </tspan><tspan y="0.29" x="140.26" font-size="15.23">[</tspan><tspan y="0.00" x="145.58 153.58 157.43">bit</tspan><tspan y="0.29" x="162.72" font-size="15.23">]</tspan></text>
<text font-size="13.00" fill="#0000ff"><tspan y="38.90" x="535.27" textLength="10.78" lengthAdjust="spacingAndGlyphs">-</tspan><tspan y="39.60" x="546.92 555.20 559.86 568.49 578.07 583.75 591.15 599.35 607.70 613.45">0.08 short</tspan></text>
<text font-size="13.00" fill="#0000ff"><tspan y="50.90" x="535.27" textLength="10.78" lengthAdjust="spacingAndGlyphs">-</tspan><tspan y="51.60" x="546.92 555.20 559.86 568.49 578.07 583.75 591.15 599.35 607.70 613.45">0.05 short</tspan></text>
<text font-size="13.00" fill="#00ff00"><tspan y="64.90" x="535.86" font-size="16.25">+</tspan><tspan y="63.60" x="546.92 555.20 559.86 568.49 578.07 583.75 591.15 599.35 607.70 613.45">0.00 short</tspan></text>
<text font-size="13.00" fill="#00ff00"><tspan y="76.90" x="535.86" font-size="16.25">+</tspan><tspan y="75.60" x="546.92 555.20 559.86 568.49 578.07 584.39 596.55 600.21 608.41 616.40 619.84">0.00 middle</tspan></text>
<text font-size="13.00" fill="#00ff00"><tspan y="88.90" x="535.86" font-size="16.25">+</tspan><tspan y="87.60" x="546.92 555.20 559.86 568.49 578.07 583.61 587.26 595.46 603.66">0.00 long</tspan></text>
<text font-size="13.00" fill="#ff0000"><tspan y="100.90" x="535.86" font-size="16.25">+</tspan><tspan y="99.60" x="546.92 555.20 559.86 568.49 578.07 583.75 591.15 599.35 607.70 613.45">0.05 short</tspan></text>
<text font-size="13.00" fill="#ff0000"><tspan y="112.90" x="535.86" font-size="16.25">+</tspan><tspan y="111.60" x="546.92 555.20 559.86 568.49 578.07 583.75 591.15 599.35 607.70 613.45">0.08 short</tspan></text>
<text font-size="13.00" fill="#000000"><tspan y="124.90" x="535.86" font-size="16.25">+</tspan><tspan y="123.60" x="546.92 555.20 559.86 568.49 578.07 583.75 591.15 599.35 607.70 613.45">0.35 short</tspan></text>
<text font-size="13.00" fill="#ff0000"><tspan y="229.80" x="535.05 542.17 551.09 560.80 568.57 576.40 584.82 592.73">LCOFFSET</tspan></text>
<text font-size="13.00" fill="#ff0000"><tspan y="240.90" x="515.27" textLength="10.78" lengthAdjust="spacingAndGlyphs">-</tspan><tspan y="241.60" x="527.87 533.04 541.17 545.13 550.30 554.98 558.63 566.83 576.19 582.08 589.70 598.06 603.23 610.20"> Fitting curve</tspan></text>
<text font-size="13.00" fill="#ff0000"><tspan y="417.30" x="515.27" textLength="10.78" lengthAdjust="spacingAndGlyphs">-</tspan><tspan y="418.00" x="527.87 533.18 542.16 550.22 559.64 568.20 577.98"> HACPOS</tspan></text>
<text font-size="13.00" fill="#000000"><tspan y="429.70" x="515.27" textLength="10.78" lengthAdjust="spacingAndGlyphs">-</tspan><tspan y="430.40" x="527.87 533.32 542.45 550.37 558.07 564.11 569.42 578.41 586.47 595.89 604.44 614.22"> Best HACPOS</tspan></text>
</g>
</svg>
</body></html>
